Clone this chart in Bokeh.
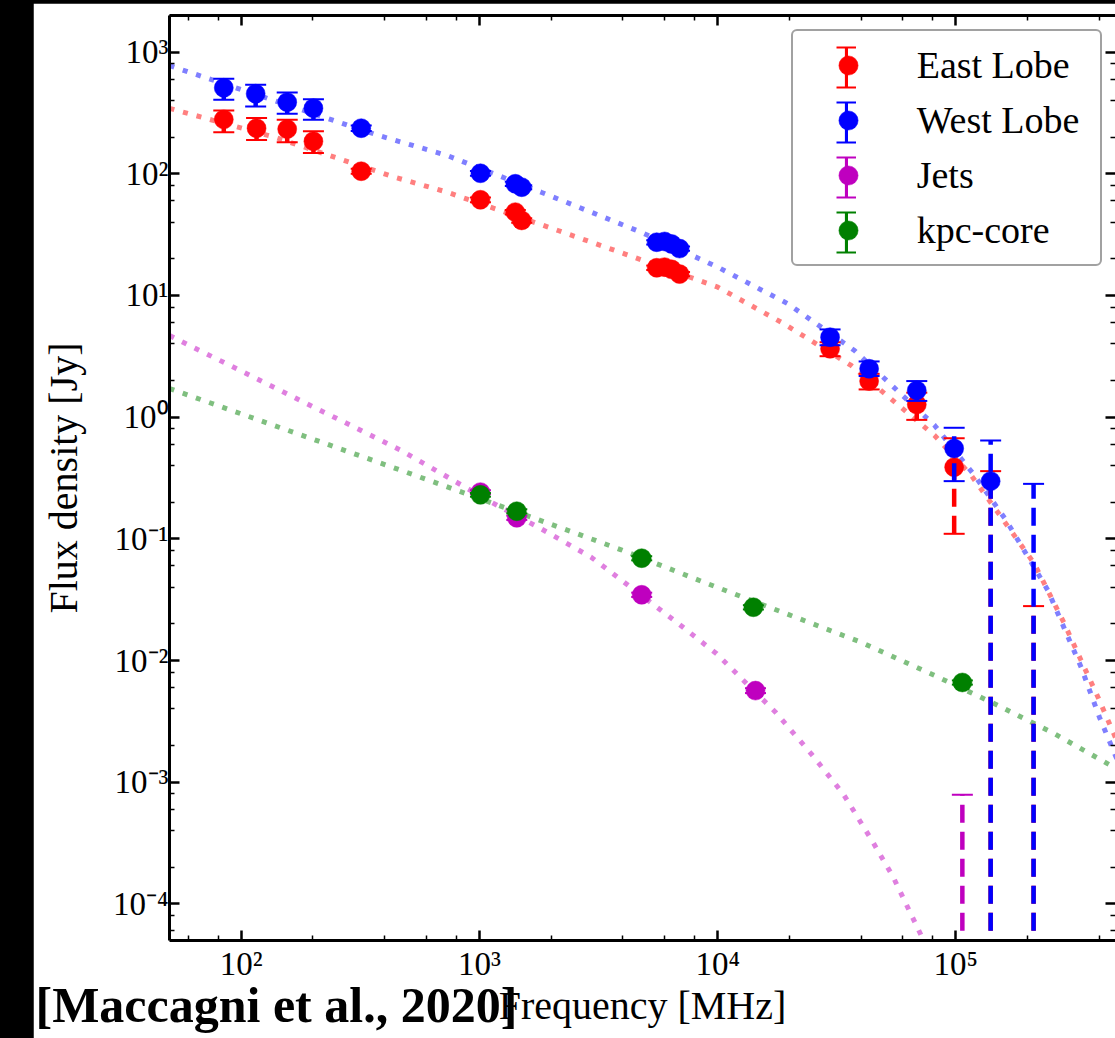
import numpy as np
from bokeh.plotting import figure
from bokeh.models import (ColumnDataSource, FixedTicker, LogAxis, Legend, LegendItem,
                          Title, Range1d, CustomJSTickFormatter)
from bokeh.layouts import row
from bokeh.embed import file_html
from bokeh.resources import INLINE

nan = float("nan")

# ---------------- data ----------------
east_freq = [84.5, 116, 156, 201, 319, 1010, 1415, 1505, 5550, 5990, 6410, 6920,
             29650, 43250, 68550, 98400, 140000, 212000]
east_flux = [280, 237, 233, 185, 105, 61.2, 48.4, 41.4, 16.9, 17.1, 16.4, 15.0,
             3.65, 1.98, 1.27, 0.388, nan, nan]
east_lo = [220, 190, 182, 148, 100, 58.5, 46.3, 39.6, 16.2, 16.4, 15.7, 14.4,
           3.17, 1.69, 0.95, 0.110, 3.6e-5, 3.6e-5]
east_hi = [332, 287, 278, 224, 110, 64.0, 50.5, 43.2, 17.6, 17.8, 17.1, 15.6,
           4.13, 2.27, 1.59, 0.671, 0.36, 0.028]

west_freq = [84.5, 115, 156, 201, 319, 1010, 1415, 1505, 5550, 5990, 6410, 6920,
             29650, 43250, 68550, 98400, 140000, 212000]
west_flux = [509, 455, 388, 346, 237, 101, 82.8, 77.6, 27.4, 27.8, 26.5, 24.3,
             4.54, 2.50, 1.66, 0.553, 0.298, nan]
west_lo = [406, 358, 312, 278, 225, 96.5, 79.5, 74.5, 26.3, 26.7, 25.4, 23.3,
           3.90, 2.18, 1.36, 0.298, 3.6e-5, 3.6e-5]
west_hi = [604, 540, 466, 409, 249, 105.5, 86.1, 80.7, 28.5, 28.9, 27.6, 25.3,
           5.26, 2.87, 1.98, 0.818, 0.643, 0.283]

jets_freq = [1010, 1435, 4800, 14420, 106500]
jets_flux = [0.242, 0.149, 0.0347, 0.00566, nan]
jets_lo = [0.233, 0.143, 0.0333, 0.00540, 3.6e-5]
jets_hi = [0.251, 0.155, 0.0361, 0.00592, 7.9e-4]

core_freq = [1010, 1435, 4800, 14130, 106500]
core_flux = [0.230, 0.1686, 0.0693, 0.0274, 0.0066]
core_lo = [0.222, 0.162, 0.0666, 0.0263, 0.00634]
core_hi = [0.238, 0.175, 0.0720, 0.0285, 0.00686]

# model curves
east_fit_freq = [50, 138, 440, 731, 2138, 4064, 10020, 18490, 36370, 81450,
                 116100, 155100, 213300, 285800, 335700, 395200, 463800, 480000]
east_fit_flux = [345, 200, 93.9, 70.7, 34.2, 22.0, 11.7, 6.03, 2.66, 0.707,
                 0.332, 0.1507, 0.0627, 0.0200, 0.0100, 0.00499, 0.00242, 0.00207]

west_fit_freq = [50, 376, 731, 1815, 2944, 4775, 10020, 19720, 37550, 81450,
                 119800, 162800, 243600, 285800, 335700, 400700, 471000, 480000]
west_fit_flux = [775, 207, 141.6, 70.6, 48.4, 33.1, 17.1, 8.55, 3.53, 0.855,
                 0.332, 0.1416, 0.0376, 0.01823, 0.00881, 0.00342, 0.00160, 0.00150]

jets_fit_freq = [50, 470, 1122, 1815, 2944, 6592, 9908, 17500, 24720, 33660,
                 44440, 54580, 71570, 82800]
jets_fit_flux = [4.69, 0.532, 0.200, 0.121, 0.0707, 0.0213, 0.01135, 0.00376,
                 0.00171, 8.02e-4, 3.32e-4, 1.66e-4, 5.49e-5, 3.11e-5]

core_fit_freq = [50, 470, 1648, 3936, 9100, 40090, 81450, 145300, 259400, 480000]
core_fit_flux = [1.72, 0.365, 0.151, 0.0813, 0.0427, 0.0141, 0.00753, 0.00441,
                 0.00250, 0.00127]

series_names = ["East Lobe", "West Lobe", "Jets", "kpc-core"]
series_colors = ["#ff0000", "#0000ff", "#bf00bf", "#008000"]

x_major = [100, 1000, 10000, 100000]
x_major_labels = ["10²", "10³", "10⁴", "10⁵"]
x_minor = [60, 80, 200, 400, 600, 800, 2000, 4000, 6000, 8000,
           20000, 40000, 60000, 80000, 200000, 400000]
y_major = [1e-4, 1e-3, 1e-2, 1e-1, 1, 10, 100, 1000]
y_major_labels = ["10⁻⁴", "10⁻³", "10⁻²", "10⁻¹", "10⁰", "10¹", "10²", "10³"]
y_minor = [6e-5, 8e-5, 2e-4, 4e-4, 6e-4, 8e-4, 2e-3, 4e-3, 6e-3, 8e-3,
           2e-2, 4e-2, 6e-2, 8e-2, 0.2, 0.4, 0.6, 0.8, 2, 4, 6, 8,
           20, 40, 60, 80, 200, 400, 600, 800, 2000]

x_label = "Frequency [MHz]"
y_label = "Flux density [Jy]"
citation = "[Maccagni et al., 2020]"

SERIF = "Liberation Serif"

# ---------------- figure ----------------
p = figure(width=1082, height=1035, x_axis_type="log", y_axis_type="log",
           x_range=Range1d(50, 4.68e5), y_range=Range1d(5e-5, 2000),
           output_backend="svg", toolbar_location=None,
           min_border_left=136, min_border_right=0, min_border_top=12,
           min_border_bottom=98, margin=(3, 0, 0, 33))
p.outline_line_color = None
p.xgrid.visible = False
p.ygrid.visible = False
p.background_fill_color = "white"
p.border_fill_color = "white"


def style_axis(ax, major, minor, labels, show_labels=True, line=True):
    ax.ticker = FixedTicker(ticks=major, minor_ticks=minor)
    ax.major_tick_in = 10
    ax.major_tick_out = 0
    ax.minor_tick_in = 5
    ax.minor_tick_out = 0
    ax.major_tick_line_width = 2.5
    ax.minor_tick_line_width = 1.5
    ax.major_tick_line_color = "black"
    ax.minor_tick_line_color = "black"
    if line:
        ax.axis_line_width = 3
        ax.axis_line_color = "black"
    else:
        ax.axis_line_color = None
    if show_labels:
        ax.major_label_overrides = dict(zip(major, labels))
        ax.major_label_text_font = SERIF
        ax.major_label_text_font_size = "33px"
        ax.major_label_text_color = "black"
    else:
        ax.formatter = CustomJSTickFormatter(code="return ''")
        ax.major_label_text_font_size = "1px"
        ax.major_label_standoff = 0


xb = p.xaxis[0]
yl = p.yaxis[0]
style_axis(xb, x_major, x_minor, x_major_labels)
style_axis(yl, y_major, y_minor, y_major_labels)
xb.major_label_standoff = 5
yl.major_label_standoff = 1
for ax, lab in ((xb, x_label), (yl, y_label)):
    ax.axis_label = lab
    ax.axis_label_text_font = SERIF
    ax.axis_label_text_font_size = "40px"
    ax.axis_label_text_font_style = "normal"
    ax.axis_label_text_color = "black"
xb.axis_label_standoff = -2
yl.axis_label_standoff = 24

xt = LogAxis()
style_axis(xt, x_major, x_minor, x_major_labels, show_labels=False)
p.add_layout(xt, "above")
yr = LogAxis()
style_axis(yr, y_major, y_minor, y_major_labels, show_labels=False, line=False)
p.add_layout(yr, "right")

# ---------------- fits ----------------
fits = [(east_fit_freq, east_fit_flux), (west_fit_freq, west_fit_flux),
        (jets_fit_freq, jets_fit_flux), (core_fit_freq, core_fit_flux)]
for (fx, fy), c in zip(fits, series_colors):
    p.line(fx, fy, line_color=c, line_alpha=0.5, line_width=5, line_dash="5 9")

# ---------------- data points with error bars ----------------
series = [(east_freq, east_flux, east_lo, east_hi),
          (west_freq, west_flux, west_lo, west_hi),
          (jets_freq, jets_flux, jets_lo, jets_hi),
          (core_freq, core_flux, core_lo, core_hi)]
items, bar_items, cap_items = [], [], []
for (f, s, lo, hi), c, name in zip(series, series_colors, series_names):
    src = ColumnDataSource(dict(freq=f, flux=s, lo=lo, hi=hi))
    p.segment(x0="freq", y0="lo", x1="freq", y1="hi", source=src,
              line_color=c, line_width=4.5, line_dash="18 9")
    p.scatter(x="freq", y="lo", source=src, marker="dash", size=21,
              line_color=c, line_width=2)
    p.scatter(x="freq", y="hi", source=src, marker="dash", size=21,
              line_color=c, line_width=2)
    r = p.scatter(x="freq", y="flux", source=src, marker="circle", size=19,
                  fill_color=c, line_color=c, line_width=0.5)
    items.append(LegendItem(label=name, renderers=[r]))
    # legend-only renderers (a single empty point, nothing drawn in the plot)
    blank = ColumnDataSource(dict(x=[nan], y=[nan]))
    rb = p.vbar(x="x", top="y", width=1, source=blank, fill_color=c, line_color=None)
    rc = p.line(x="x", y="y", source=blank, line_color=c, line_width=2)
    bar_items.append(LegendItem(label=" ", renderers=[rb]))
    cap_items.append(LegendItem(label=" ", renderers=[rc]))


def overlay_legend(its, loc, gw):
    return Legend(items=its, location=loc, padding=0, margin=0, glyph_height=50,
                  glyph_width=gw, spacing=5, label_standoff=0, label_width=0,
                  label_height=1, label_text_font_size="1px",
                  border_line_color=None, background_fill_alpha=0)


# error-bar keys: vertical bar, top caps, bottom caps (drawn under the markers)
p.add_layout(overlay_legend(bar_items, (674.7, 683), 4))
p.add_layout(overlay_legend(cap_items, (666.7, 703), 20))
p.add_layout(overlay_legend(cap_items, (666.7, 663), 20))

legend = Legend(items=items, location=(621.7, 673.7), padding=10, margin=0,
                glyph_height=48, glyph_width=90, spacing=7, label_standoff=24,
                label_width=173, label_text_font=SERIF, label_text_font_size="38px",
                label_text_color="black", border_line_color="#444444",
                border_line_width=2, background_fill_alpha=0)
if "border_radius" in Legend.properties():
    legend.border_radius = 6
p.add_layout(legend)

# citation, placed in the bottom panel and pulled up onto the axis-label line
cite = Title(text=citation, align="left", vertical_align="top", offset=-134,
             standoff=-108, text_font=SERIF, text_font_size="50px",
             text_font_style="bold", text_color="black")
p.add_layout(cite, "below")

layout = row(p, styles={"background-color": "black"})
open("out.html", "w").write(file_html(layout, INLINE))
